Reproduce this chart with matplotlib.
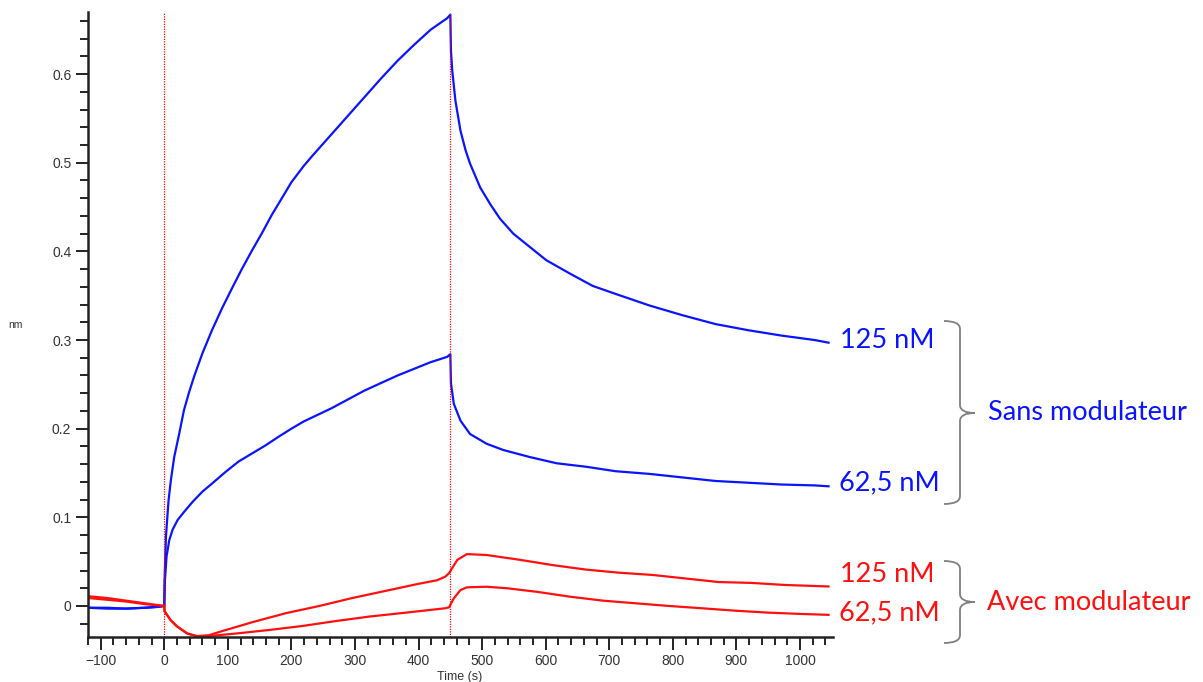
"""
Sensorgrammes (BLI) : association puis dissociation, avec et sans modulateur.
Les valeurs sont relevées à la main sur la figure d'origine.
"""
import matplotlib
matplotlib.use("Agg")
import matplotlib.pyplot as plt
from matplotlib.ticker import MultipleLocator
from matplotlib.path import Path
from matplotlib.patches import PathPatch
from matplotlib.transforms import Affine2D

# --- données (temps en s, réponse en nm) ---
t_sans_125 = [-120, -90, -60, -30, -10, 0, 0.5, 2.6, 6.7, 10.4, 15.6, 23.4, 31, 39, 47, 60, 75, 91,
              107, 122, 138, 154, 169, 185, 200, 219, 232, 263, 289, 315, 341, 367, 393, 419, 445, 450,
              451, 453, 458, 466, 474, 481, 497, 513, 528, 549, 575, 601, 638, 674, 710, 763, 815,
              867, 919, 971, 1023, 1045]
y_sans_125 = [-0.002, -0.003, -0.003, -0.002, -0.001, 0.0, 0.029, 0.078, 0.119, 0.142, 0.168, 0.194,
              0.221, 0.241, 0.259, 0.285, 0.311, 0.336, 0.359, 0.380, 0.401, 0.421, 0.441, 0.460, 0.478,
              0.496, 0.507, 0.532, 0.553, 0.574, 0.595, 0.615, 0.633, 0.650, 0.663, 0.667,
              0.626, 0.604, 0.570, 0.536, 0.514, 0.499, 0.472, 0.453, 0.437, 0.420, 0.405, 0.390,
              0.375, 0.361, 0.352, 0.339, 0.328, 0.318, 0.311, 0.305, 0.300, 0.297]

t_sans_62 = [-120, -90, -60, -30, -10, 0, 1, 3.6, 7.8, 13, 21, 31, 44, 60, 75, 96, 117, 138, 159, 180,
             200, 219, 263, 315, 367, 419, 445, 450, 451, 455.5, 466, 481, 507, 533, 575, 617, 664,
             710, 763, 815, 867, 919, 971, 1023, 1045]
y_sans_62 = [-0.002, -0.002, -0.003, -0.002, -0.001, 0.0, 0.029, 0.056, 0.074, 0.086, 0.097, 0.106,
             0.117, 0.129, 0.138, 0.151, 0.163, 0.172, 0.181, 0.191, 0.200, 0.208, 0.223, 0.243, 0.260,
             0.275, 0.281, 0.284, 0.251, 0.228, 0.209, 0.194, 0.183, 0.176, 0.168, 0.161, 0.157,
             0.152, 0.149, 0.145, 0.141, 0.139, 0.137, 0.136, 0.135]

t_avec_125 = [-120, -90, -60, -30, 0, 0.5, 10, 20, 36, 51, 70, 88, 140, 192, 244, 296, 348, 400, 429,
              442, 448, 461, 476, 507, 560, 612, 664, 716, 768, 820, 872, 924, 976, 1045]
y_avec_125 = [0.011, 0.009, 0.006, 0.003, 0.0, -0.006, -0.016, -0.023, -0.031, -0.034, -0.033, -0.029,
              -0.018, -0.008, 0.0, 0.009, 0.017, 0.025, 0.029, 0.033, 0.037, 0.052, 0.0585, 0.0575,
              0.052, 0.046, 0.041, 0.0375, 0.035, 0.031, 0.027, 0.026, 0.0237, 0.022]

t_avec_62 = [-120, -90, -60, -30, 0, 0.5, 10, 20, 36, 51, 62, 114, 166, 218, 270, 322, 374, 442, 448,
             455.5, 466, 476, 507, 539, 586, 638, 690, 742, 794, 846, 898, 950, 1002, 1045]
y_avec_62 = [0.009, 0.007, 0.005, 0.002, 0.0, -0.006, -0.016, -0.023, -0.031, -0.034, -0.0345, -0.031,
             -0.027, -0.0225, -0.017, -0.012, -0.008, -0.0026, -0.0015, 0.0086, 0.018, 0.021, 0.0217,
             0.020, 0.016, 0.0105, 0.006, 0.003, 0.0, -0.0026, -0.0053, -0.0075, -0.009, -0.010]

injections = [0, 450]

# --- figure ---
W, H = 1203, 682
fig = plt.figure(figsize=(W / 100, H / 100), dpi=100)
ax = fig.add_axes([88 / W, 1 - 637 / H, (833 - 88) / W, (637 - 12) / H])

ax.plot(t_sans_125, y_sans_125, color="#0a14ff", lw=1.6)
ax.plot(t_sans_62, y_sans_62, color="#0a14ff", lw=1.6)
ax.plot(t_avec_125, y_avec_125, color="#ff1010", lw=1.6)
ax.plot(t_avec_62, y_avec_62, color="#ff1010", lw=1.6)
for t in injections:
    ax.axvline(t, color="red", ls=(0, (1, 1)), lw=0.9)

ax.set_xlim(-120, 1052)
ax.set_ylim(-0.035, 0.67)
ax.xaxis.set_major_locator(MultipleLocator(100))
ax.xaxis.set_minor_locator(MultipleLocator(20))
ax.yaxis.set_major_locator(MultipleLocator(0.1))
ax.yaxis.set_minor_locator(MultipleLocator(0.02))
ax.set_yticks([0, 0.1, 0.2, 0.3, 0.4, 0.5, 0.6])
ax.set_yticklabels(["0", "0.1", "0.2", "0.3", "0.4", "0.5", "0.6"])

for s in ["top", "right"]:
    ax.spines[s].set_visible(False)
for s in ["left", "bottom"]:
    ax.spines[s].set_linewidth(1.8)
    ax.spines[s].set_color("#222222")
ax.tick_params(which="major", length=9, width=1.4, color="#222222", labelsize=10,
               labelcolor="#333333", pad=3)
ax.tick_params(which="minor", length=6, width=1.4, color="#222222")
for lab in ax.get_xticklabels() + ax.get_yticklabels():
    lab.set_family("Liberation Sans")

fig.text(15 / W, 1 - 325 / H, "nm", fontsize=7.5, family="Liberation Sans", color="#333333",
         ha="center", va="center")
fig.text(460 / W, 1 - 677 / H, "Time (s)", fontsize=9, family="Liberation Sans", color="#333333",
         ha="center", va="center")

# --- étiquettes à droite ---
lab_font = "Lato"
fs = 19.5
fig.text(840 / W, 1 - 341 / H, "125 nM", color="#0a14ff", fontsize=fs, family=lab_font, va="center")
fig.text(839 / W, 1 - 483 / H, "62,5 nM", color="#0a14ff", fontsize=fs, family=lab_font, va="center")
fig.text(840 / W, 1 - 575 / H, "125 nM", color="#ff1010", fontsize=fs, family=lab_font, va="center")
fig.text(839 / W, 1 - 613 / H, "62,5 nM", color="#ff1010", fontsize=fs, family=lab_font, va="center")
fig.text(988 / W, 1 - 413 / H, "Sans modulateur", color="#0a14ff", fontsize=fs, family=lab_font, va="center")
fig.text(987 / W, 1 - 602 / H, "Avec modulateur", color="#ff1010", fontsize=fs, family=lab_font, va="center")

# accolades (en pixels de la figure, y vers le bas)
px = Affine2D().scale(1 / W, -1 / H).translate(0, 1) + fig.transFigure


def accolade(ytop, ymid, ybot, x0=944, x1=960, xt=975):
    verts = [(x0, ytop), (x1, ytop), (x1, ytop + 8),
             (x1, ymid - 8), (x1, ymid), (xt, ymid),
             (x1, ymid), (x1, ymid + 8),
             (x1, ybot - 8), (x1, ybot), (x0, ybot)]
    codes = [Path.MOVETO, Path.CURVE3, Path.CURVE3,
             Path.LINETO, Path.CURVE3, Path.CURVE3,
             Path.CURVE3, Path.CURVE3,
             Path.LINETO, Path.CURVE3, Path.CURVE3]
    fig.add_artist(PathPatch(Path(verts, codes), transform=px, fill=False,
                             edgecolor="#7f7f7f", lw=1.3))


accolade(321, 413, 504)
accolade(561, 602, 643)

fig.savefig("out.png", dpi=100)
